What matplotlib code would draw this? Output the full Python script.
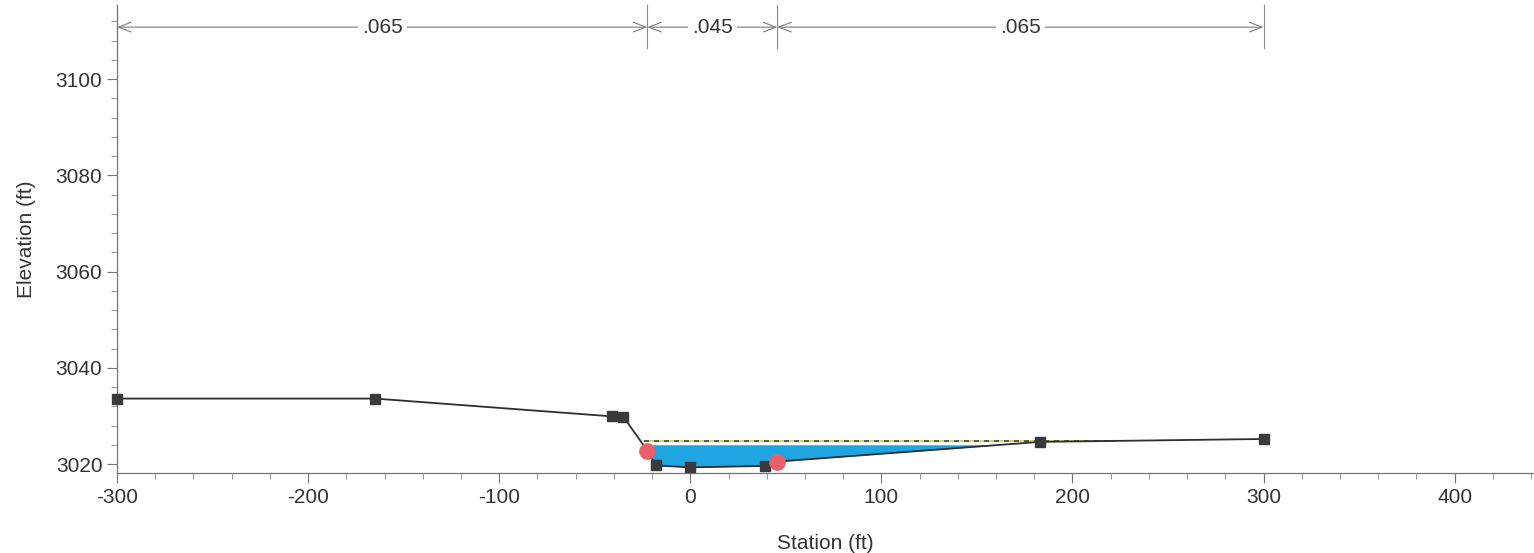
import numpy as np
import matplotlib
matplotlib.use("Agg")
import matplotlib.pyplot as plt
from matplotlib.ticker import MultipleLocator

plt.rcParams['font.family'] = ['Liberation Sans', 'DejaVu Sans']
plt.rcParams['axes.unicode_minus'] = False

# ground profile
station = [-300, -165, -41, -35, -22.5, -18, 0, 39, 45.5, 183, 300]
elevation = [3033.6, 3033.6, 3029.9, 3029.8, 3022.8, 3019.7, 3019.3, 3019.6, 3020.5, 3024.6, 3025.2]
bank_station = [-22.5, 45.5]
bank_elev = [3022.8, 3020.5]

# water surface
ws_fill = 3024.0
ws_line = 3024.8
ws_extent = [-24, 222]

# manning n values and their limits
n_breaks = [-300, -22.5, 45.5, 300]
n_values = ['.065', '.045', '.065']

fig = plt.figure(figsize=(15.34, 5.53), dpi=100)
ax = fig.add_axes([117 / 1534, 80 / 553, 1 - 117 / 1534, 468 / 553])

# water fill
xs = np.linspace(min(station), max(station), 3000)
gs = np.interp(xs, station, elevation)
ax.fill_between(xs, gs, ws_fill, where=gs < ws_fill, color='#1ea5e2', lw=0, zorder=1)
ax.plot(ws_extent, [ws_line, ws_line], color='#d8cc3a', lw=1.2, zorder=2)
ax.plot(ws_extent, [ws_line, ws_line], color='#3d4a3a', lw=1.2, ls=(0, (3, 3)), zorder=2)

# ground line and points
ax.plot(station, elevation, color='#2e2e2e', lw=1.3, zorder=3)
pts = [i for i, s in enumerate(station) if s not in bank_station]
ax.plot([station[i] for i in pts], [elevation[i] for i in pts], 's', color='#3a3a3a',
        ms=6.5, zorder=4, clip_on=False)
ax.plot(bank_station, bank_elev, 'o', color='#e8606a', ms=11, zorder=5)

# n value dimension lines
y_dim = 3110.8
for b in n_breaks:
    ax.plot([b, b], [3106.5, 3115.4], color='#8a8a8a', lw=0.8, zorder=2, clip_on=False)
for i, lab in enumerate(n_values):
    x0, x1 = n_breaks[i], n_breaks[i + 1]
    ax.annotate('', xy=(x0, y_dim), xytext=(x1, y_dim),
                arrowprops=dict(arrowstyle='<->, head_length=0.9, head_width=0.35',
                                color='#7a7a7a', lw=0.8, shrinkA=0, shrinkB=0))
    ax.text((x0 + x1) / 2, y_dim, lab, ha='center', va='center', fontsize=15,
            color='#333333', bbox=dict(facecolor='white', edgecolor='none', pad=3))

ax.set_xlim(-300, 441.5)
ax.set_ylim(3018.13, 3115.4)
ax.xaxis.set_major_locator(MultipleLocator(100))
ax.xaxis.set_minor_locator(MultipleLocator(20))
ax.yaxis.set_major_locator(MultipleLocator(20))
ax.yaxis.set_minor_locator(MultipleLocator(4))
ax.set_yticks([3020, 3040, 3060, 3080, 3100])

for s in ['top', 'right']:
    ax.spines[s].set_visible(False)
for s in ['left', 'bottom']:
    ax.spines[s].set_color('#777777')
    ax.spines[s].set_linewidth(0.9)
ax.tick_params(which='major', length=7, color='#777777', labelsize=15, labelcolor='#333333')
ax.tick_params(which='minor', length=4, color='#888888')

ax.set_xlabel('Station (ft)', fontsize=15, color='#333333', labelpad=20)
ax.set_ylabel('Elevation (ft)', fontsize=15, color='#333333', labelpad=14)

plt.savefig('out.png', dpi=100)
